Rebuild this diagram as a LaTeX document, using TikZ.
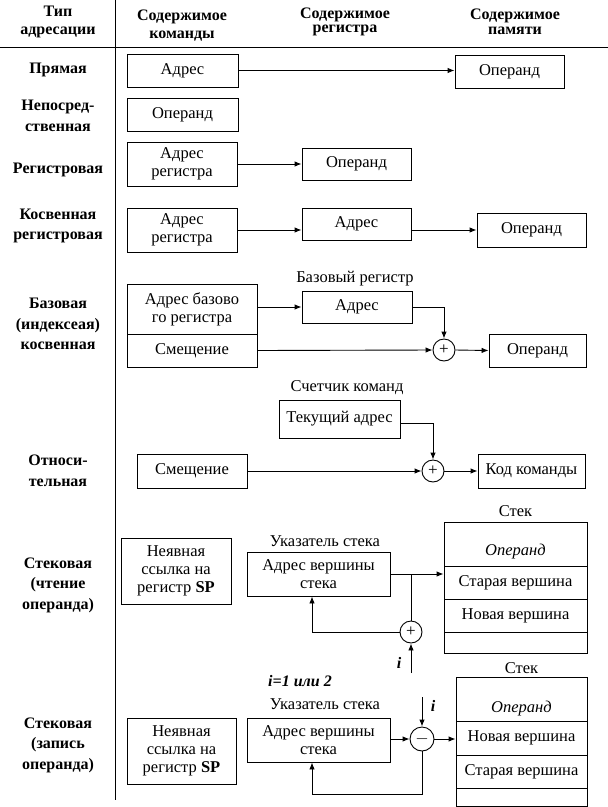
\documentclass[tikz,border=0pt]{standalone}
\usepackage{fontspec}
\setmainfont{Liberation Serif}
\usetikzlibrary{arrows.meta,calc}
\begin{document}
\begin{tikzpicture}[x=1pt,y=-1pt,
  box/.style={draw, line width=0.9pt, align=center, inner sep=0pt, font=\fontsize{16.5}{18}\selectfont},
  cell/.style={draw, line width=0.9pt, inner sep=0pt, minimum width=#1, font=\fontsize{16.5}{18}\selectfont},
  lab/.style={align=center, inner sep=0pt, font=\bfseries\fontsize{16}{20.5}\selectfont},
  hdr/.style={align=center, inner sep=0pt, font=\bfseries\fontsize{16}{18}\selectfont},
  capt/.style={inner sep=0pt, font=\fontsize{16.5}{18}\selectfont},
  arr/.style={-{Latex[length=7pt,width=5.5pt]}, line width=0.9pt},
  ln/.style={line width=0.9pt},
  sumnode/.style={draw, circle, line width=0.9pt, minimum size=#1, inner sep=0pt, font=\fontsize{17}{17}\selectfont},
  ival/.style={inner sep=0pt, font=\bfseries\itshape\fontsize{16}{18}\selectfont}]
\useasboundingbox (0,0) rectangle (608,807);

% grid lines
\coordinate (vt) at (115,0);
\coordinate (vb) at (115,800);
\coordinate (hl) at (0,47);
\coordinate (hr) at (608,47);
\draw[ln] (vt) -- (vb);
\draw[ln] (hl) -- (hr);

% headers
\node[hdr] (h1) at (58,22) {Тип\\адресации};
\node[hdr] (h2) at (182,26) {Содержимое\\команды};
\node[hdr, font=\bfseries\fontsize{16}{14.5}\selectfont] (h3) at (345,22) {Содержимое\\регистра};
\node[hdr, font=\bfseries\fontsize{16}{14.5}\selectfont] (h4) at (515,22) {Содержимое\\памяти};

% left labels
\node[lab] (l1) at (58,70) {Прямая};
\node[lab] (l2) at (58,116) {Непосред-\\ственная};
\node[lab] (l3) at (58,170) {Регистровая};
\node[lab] (l4) at (58,226) {Косвенная\\регистровая};
\node[lab] (l5) at (58,324) {Базовая\\(индексеая)\\косвенная};
\node[lab] (l6) at (58,471) {Относи-\\тельная};
\node[lab] (l7) at (58,585) {Стековая\\(чтение\\операнда)};
\node[lab] (l8) at (58,745) {Стековая\\(запись\\операнда)};

% Direct
\node[box, minimum width=111, minimum height=33] (a1) at (182.5,70.5) {Адрес};
\node[box, minimum width=109, minimum height=33] (o1) at (509.5,71.5) {Операнд};
\draw[arr] (a1.east) -- (a1.east -| o1.west);

% Immediate
\node[box, minimum width=111, minimum height=33] (b1) at (182.5,114.5) {Операнд};

% Register
\node[box, minimum width=110, minimum height=44] (c1) at (182,164) {Адрес\\регистра};
\node[box, minimum width=109, minimum height=32] (c2) at (356.5,164) {Операнд};
\draw[arr] (c1.east) -- (c2.west);

% Register indirect
\node[box, minimum width=110, minimum height=44] (d1) at (182,230) {Адрес\\регистра};
\node[box, minimum width=109, minimum height=32] (d2) at (356.5,224) {Адрес};
\node[box, minimum width=109, minimum height=34] (d3) at (531.5,230) {Операнд};
\draw[arr] (d1.east) -- (d1.east -| d2.west);
\draw[arr] (d2.east |- d3.west) -- (d3.west);

% Base
\node[box, minimum width=130, minimum height=50] (e1) at (192,309) {Адрес базово\\го регистра};
\node[box, minimum width=130, minimum height=33] (e2) at (192,350.5) {Смещение};
\node[capt] (e3l) at (355,279) {Базовый регистр};
\node[box, minimum width=110, minimum height=32] (e3) at (357,307) {Адрес};
\node[sumnode=22pt] (s1) at (444,350) {+};
\node[box, minimum width=97, minimum height=33] (e4) at (537.5,350.5) {Операнд};
\draw[arr] (e1.east |- e3.west) -- (e3.west);
\draw[arr] (e3.east) -| (s1.north);
\draw[arr] (e2.east) -- (s1.west);
\draw[arr] (s1.east) -- (e4.west);

% Relative
\node[capt] (f0) at (347,388) {Счетчик команд};
\node[box, minimum width=121, minimum height=38] (f1) at (339.5,419) {Текущий адрес};
\node[sumnode=22pt] (s2) at (433,471) {+};
\node[box, minimum width=110, minimum height=34] (f2) at (192,471) {Смещение};
\node[box, minimum width=107, minimum height=34] (f3) at (531.5,471) {Код команды};
\draw[arr] ([yshift=-4pt]f1.east) -| (s2.north);
\draw[arr] (f2.east) -- (s2.west);
\draw[arr] (s2.east) -- (f3.west);

% Stack read
\node[box, minimum width=110, minimum height=66] (g1) at (176,571) {Неявная\\ссылка на\\регистр \textbf{SP}};
\node[capt] (g0) at (325,541) {Указатель стека};
\node[box, minimum width=143, minimum height=44] (g2) at (318.5,574) {Адрес вершины\\стека};
\node[capt] (k1l) at (515.5,511) {Стек};
\node[cell=143pt, minimum height=44] (k1a) at (515.5,544) {};
\node[capt] (k1o) at (515.5,552) {\itshape Операнд};
\node[cell=143pt, minimum height=33] (k1b) at (515.5,582.5) {Старая вершина};
\node[cell=143pt, minimum height=33] (k1c) at (515.5,615.5) {Новая вершина};
\node[cell=143pt, minimum height=21] (k1d) at (515.5,642.5) {};
\node[sumnode=22pt] (s3) at (411,632) {+};
\coordinate (br1) at (411,574);
\coordinate (i1) at (411,673);
\draw[arr] (g2.east) -- (g2.east -| k1b.west);
\draw[ln] (br1) -- (s3.north);
\draw[arr] (s3.west) -| ([xshift=-6.5pt]g2.south);
\draw[arr] (i1) -- (s3.south);
\node[ival] (i1l) at (399,663) {i};

\node[ival] (iv) at (300,681) {i=1 или 2};

% Stack write
\node[box, minimum width=109, minimum height=66] (h1b) at (181.5,751) {Неявная\\ссылка на\\регистр \textbf{SP}};
\node[capt] (h0) at (325,704) {Указатель стека};
\node[box, minimum width=143, minimum height=44] (h2b) at (318.5,740) {Адрес вершины\\стека};
\node[capt] (k2l) at (521.5,668) {Стек};
\node[cell=131pt, minimum height=44] (k2a) at (521.5,699) {};
\node[capt] (k2o) at (521.5,709) {\itshape Операнд};
\node[cell=131pt, minimum height=34] (k2b) at (521.5,738) {Новая вершина};
\node[cell=131pt, minimum height=33] (k2c) at (521.5,771.5) {Старая вершина};
\node[cell=131pt, minimum height=18] (k2d) at (521.5,797) {};
\node[sumnode=24pt] (s4) at (422,739) {$-$};
\coordinate (i2) at (422,697);
\coordinate (c4) at (422,794);
\draw[arr] (h2b.east |- s4.west) -- (s4.west);
\draw[arr] (s4.east) -- (s4.east -| k2b.west);
\draw[arr] (i2) -- (s4.north);
\node[ival] (i2l) at (433,706) {i};
\draw[arr] (s4.south) -- (c4) -| ([xshift=-6.5pt]h2b.south);
\end{tikzpicture}
\end{document}
